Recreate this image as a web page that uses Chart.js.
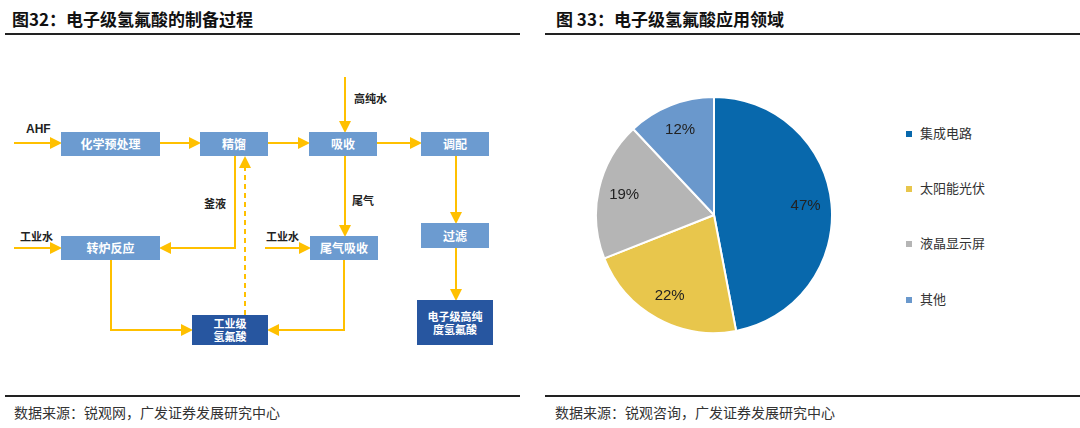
<!DOCTYPE html>
<html><head><meta charset="utf-8">
<script src="https://cdn.jsdelivr.net/npm/chart.js@4/dist/chart.umd.min.js"></script>
<style>
body{margin:0;width:1080px;height:428px;background:#fff;position:relative;overflow:hidden;font-family:"Noto Sans CJK SC","Noto Sans",sans-serif;}
.t{position:absolute;font-weight:bold;font-size:17px;color:#111;top:6px;}
.hr{position:absolute;height:2px;background:#222;}
.src{position:absolute;top:402px;font-size:14px;color:#333;}
.box{position:absolute;background:#6C9BD0;color:#fff;font-size:12px;font-weight:bold;display:flex;align-items:center;justify-content:center;text-align:center;line-height:14px;}
.dark{background:#2756A0;font-size:11px;line-height:13px;}
.lb{position:absolute;font-size:11px;color:#222;font-weight:bold;}
.leg{position:absolute;left:906px;font-size:13px;color:#333;}
.leg i{display:inline-block;width:6px;height:6px;margin-right:8px;vertical-align:middle;}
</style></head><body>
<div class="t" style="left:12px">图32：电子级氢氟酸的制备过程</div>
<div class="t" style="left:556px">图 33：电子级氢氟酸应用领域</div>
<div class="hr" style="left:5px;width:515px;top:33px"></div>
<div class="hr" style="left:545px;width:535px;top:33px"></div>
<div class="hr" style="left:5px;width:515px;top:395px"></div>
<div class="hr" style="left:545px;width:535px;top:395px"></div>
<div class="src" style="left:14px">数据来源：锐观网，广发证券发展研究中心</div>
<div class="src" style="left:555px">数据来源：锐观咨询，广发证券发展研究中心</div>

<svg style="position:absolute;left:0;top:0" width="540" height="400">
<defs><marker id="a" markerWidth="6" markerHeight="6" refX="5" refY="3" orient="auto"><path d="M0,0 L6,3 L0,6 z" fill="#FFC000"/></marker></defs>
<g stroke="#FFC000" stroke-width="2" fill="none" marker-end="url(#a)">
<path d="M14,143 H60"/><path d="M160,143 H199"/><path d="M268,143 H308"/><path d="M377,143 H420"/>
<path d="M345,77 V131"/><path d="M345,156 V235"/>
<path d="M235,156 V248 H161"/><path d="M14,248 H60"/><path d="M265,248 H309"/>
<path d="M111,260 V330 H191"/><path d="M344,260 V330 H269"/>
<path d="M456,156 V222"/><path d="M456,248 V299"/>
<path d="M245,315 V158" stroke-dasharray="5,4"/>
</g></svg>
<div class="lb" style="left:26px;top:122px;font-family:Arial,sans-serif;font-size:12px">AHF</div>
<div class="lb" style="left:354px;top:90px">高纯水</div>
<div class="lb" style="left:204px;top:195px">釜液</div>
<div class="lb" style="left:352px;top:192px">尾气</div>
<div class="lb" style="left:20px;top:228px">工业水</div>
<div class="lb" style="left:266px;top:228px">工业水</div>
<div class="box" style="left:61px;top:132px;width:99px;height:24px">化学预处理</div>
<div class="box" style="left:200px;top:132px;width:68px;height:24px">精馏</div>
<div class="box" style="left:309px;top:132px;width:68px;height:24px">吸收</div>
<div class="box" style="left:421px;top:132px;width:68px;height:24px">调配</div>
<div class="box" style="left:61px;top:236px;width:99px;height:24px">转炉反应</div>
<div class="box" style="left:310px;top:236px;width:68px;height:24px">尾气吸收</div>
<div class="box" style="left:421px;top:223px;width:68px;height:25px">过滤</div>
<div class="box dark" style="left:192px;top:315px;width:76px;height:30px">工业级<br>氢氟酸</div>
<div class="box dark" style="left:417px;top:300px;width:76px;height:45px">电子级高纯<br>度氢氟酸</div>

<div style="position:absolute;left:595px;top:96px;width:238px;height:238px"><canvas id="c"></canvas></div>
<div id="legend"></div>
<script>
const categories=["集成电路","太阳能光伏","液晶显示屏","其他"];
const shares=[47,22,19,12];
const colors=["#0868AC","#E8C64C","#B5B5B5","#6A98CC"];
const legendTops=[123,178,233,289];
const lg=document.getElementById('legend');
categories.forEach((c,i)=>{const d=document.createElement('div');d.className='leg';d.style.top=legendTops[i]+'px';d.innerHTML='<i style="background:'+colors[i]+'"></i>'+c;lg.appendChild(d);});
const lab={id:'lab',afterDatasetsDraw(ch){const ctx=ch.ctx;ctx.save();ctx.font='15px Arial, sans-serif';ctx.fillStyle='#222';ctx.textAlign='center';ctx.textBaseline='middle';
ch.getDatasetMeta(0).data.forEach((a,i)=>{const m=(a.startAngle+a.endAngle)/2;const r=a.outerRadius*0.78;ctx.fillText(shares[i]+'%',a.x+Math.cos(m)*r,a.y+Math.sin(m)*r);});ctx.restore();}};
new Chart(document.getElementById('c'),{type:'pie',data:{labels:categories,datasets:[{data:shares,backgroundColor:colors,borderColor:'#fff',borderWidth:2}]},
options:{animation:false,responsive:true,maintainAspectRatio:false,plugins:{legend:{display:false},tooltip:{enabled:false}}},plugins:[lab]});
</script></body></html>
